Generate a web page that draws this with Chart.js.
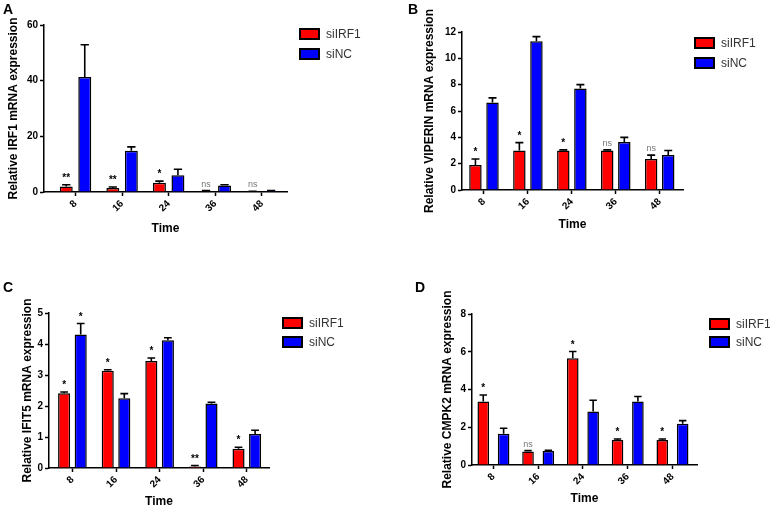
<!DOCTYPE html>
<html><head><meta charset="utf-8">
<script src="https://cdn.jsdelivr.net/npm/chart.js@4.4.1/dist/chart.umd.min.js"></script>
<style>
html,body{margin:0;padding:0;background:#fff;}
#wrap{position:relative;width:770px;height:510px;overflow:hidden;background:#fff;}
canvas{position:absolute;}
</style></head><body>
<div id="wrap">
<canvas id="cA" width="385" height="255" style="left:0;top:0"></canvas>
<canvas id="cB" width="385" height="255" style="left:385px;top:0"></canvas>
<canvas id="cC" width="385" height="255" style="left:0;top:255px"></canvas>
<canvas id="cD" width="385" height="255" style="left:385px;top:255px"></canvas>
</div>
<script>
// ---------- DATA ----------
const times = ['8','16','24','36','48'];
const seriesNames = ['siIRF1','siNC'];
const panelLetters = ['A','B','C','D'];
const yTitles = ['Relative IRF1 mRNA expression','Relative VIPERIN mRNA expression','Relative IFIT5 mRNA expression','Relative CMPK2 mRNA expression'];
const xTitle = 'Time';

const irf1_siIRF1 = [2.0, 1.4, 3.3, 0.3, 0.15];
const irf1_siIRF1_err = [0.6, 0.4, 0.6, 0.2, 0.1];
const irf1_siNC = [41.3, 14.8, 6.0, 2.3, 0.4];
const irf1_siNC_err = [11.6, 1.4, 2.2, 0.3, 0.1];
const irf1_sig = ['**','**','*','ns','ns'];

const viperin_siIRF1 = [1.9, 3.0, 3.0, 3.0, 2.35];
const viperin_siIRF1_err = [0.45, 0.6, 0.05, 0.05, 0.3];
const viperin_siNC = [6.65, 11.3, 7.7, 3.65, 2.65];
const viperin_siNC_err = [0.35, 0.35, 0.3, 0.35, 0.35];
const viperin_sig = ['*','*','*','ns','ns'];

const ifit5_siIRF1 = [2.41, 3.14, 3.45, 0.05, 0.62];
const ifit5_siIRF1_err = [0.04, 0.03, 0.1, 0.03, 0.05];
const ifit5_siNC = [4.31, 2.25, 4.12, 2.08, 1.1];
const ifit5_siNC_err = [0.35, 0.15, 0.08, 0.04, 0.12];
const ifit5_sig_siIRF1 = ['*','*','*','**','*'];
const ifit5_sig_siNC = ['*','','','',''];

const cmpk2_siIRF1 = [3.36, 0.72, 5.66, 1.33, 1.33];
const cmpk2_siIRF1_err = [0.35, 0.04, 0.35, 0.05, 0.05];
const cmpk2_siNC = [1.65, 0.74, 2.83, 3.36, 2.18];
const cmpk2_siNC_err = [0.3, 0.04, 0.6, 0.27, 0.17];
const cmpk2_sig = ['*','ns','*','*','*'];

const yMaxes = [60, 12, 5, 8];
const ySteps = [20, 2, 1, 2];

// ---------- STYLE / LAYOUT ----------
const FONT = '"Liberation Sans", Arial, Helvetica, sans-serif';
Chart.defaults.font.family = FONT;
Chart.defaults.color = '#000';
const RED = '#ff0000', BLUE = '#0000ff';

const layouts = [
  {id:'cA', L:44, R:287, T:25, B:192, xmin:-0.676, xmax:4.539, cp:0.794, bp:0.70, ytp:6.8, xtp:18.8, lg:{x:300,y:29,gap:20}, lx:3, ly:14},
  {id:'cB', L:77, R:298, T:32, B:190, xmin:-0.5, xmax:4.53, cp:0.777, bp:0.73, ytp:37.8, xtp:22.8, lg:{x:310,y:38,gap:20}, lx:23, ly:14},
  {id:'cC', L:49, R:269, T:58, B:213, xmin:-0.537, xmax:4.509, cp:0.76, bp:0.73, ytp:20.8, xtp:0.8, lg:{x:283,y:63,gap:19}, lx:3, ly:37},
  {id:'cD', L:87, R:312, T:59, B:210, xmin:-0.479, xmax:4.548, cp:0.91, bp:0.57, ytp:55.8, xtp:3.8, lg:{x:325,y:64,gap:18}, lx:30, ly:37}
];

const extrasPlugin = {
  id: 'extras',
  afterDatasetsDraw(chart) {
    const ctx = chart.ctx, ys = chart.scales.y;
    chart.data.datasets.forEach((ds, di) => {
      const meta = chart.getDatasetMeta(di);
      meta.data.forEach((bar, i) => {
        const v = ds.data[i].y, e = ds.err[i];
        const top = ys.getPixelForValue(v + e);
        const hw = bar.width * 0.32;
        ctx.save();
        ctx.strokeStyle = '#000'; ctx.lineWidth = 1.6;
        ctx.beginPath();
        ctx.moveTo(bar.x, bar.y); ctx.lineTo(bar.x, top);
        ctx.moveTo(bar.x - hw, top); ctx.lineTo(bar.x + hw, top);
        ctx.stroke();
        const m = ds.sig ? ds.sig[i] : '';
        if (m) {
          ctx.textAlign = 'center'; ctx.textBaseline = 'alphabetic';
          if (m === 'ns') {
            ctx.fillStyle = '#777'; ctx.font = '9px ' + FONT;
            ctx.fillText(m, bar.x, top - 4);
          } else {
            ctx.fillStyle = '#000'; ctx.font = 'bold 10px ' + FONT;
            ctx.fillText(m, bar.x, top - 4);
          }
        }
        ctx.restore();
      });
    });
  },
  afterDraw(chart, args, opts) {
    const ctx = chart.ctx;
    ctx.save();
    chart.data.datasets.forEach((ds, i) => {
      const x = opts.x, y = opts.y + i * opts.gap;
      ctx.fillStyle = ds.backgroundColor; ctx.fillRect(x, y, 19, 10);
      ctx.strokeStyle = '#000'; ctx.lineWidth = 2; ctx.strokeRect(x, y, 19, 10);
      ctx.fillStyle = '#333'; ctx.font = '12px ' + FONT; ctx.textBaseline = 'middle'; ctx.textAlign = 'left';
      ctx.fillText(ds.label, x + 26, y + 5.5);
    });
    ctx.fillStyle = '#000'; ctx.font = 'bold 14px ' + FONT; ctx.textBaseline = 'alphabetic'; ctx.textAlign = 'left';
    ctx.fillText(opts.letter, opts.lx, opts.ly);
    ctx.restore();
  }
};

function toXY(arr) { return arr.map((v, i) => ({x: i, y: v})); }

const panelData = [
  [[irf1_siIRF1, irf1_siIRF1_err, irf1_sig], [irf1_siNC, irf1_siNC_err, null]],
  [[viperin_siIRF1, viperin_siIRF1_err, viperin_sig], [viperin_siNC, viperin_siNC_err, null]],
  [[ifit5_siIRF1, ifit5_siIRF1_err, ifit5_sig_siIRF1], [ifit5_siNC, ifit5_siNC_err, ifit5_sig_siNC]],
  [[cmpk2_siIRF1, cmpk2_siIRF1_err, cmpk2_sig], [cmpk2_siNC, cmpk2_siNC_err, null]]
];

layouts.forEach((lay, p) => {
  const colors = [RED, BLUE];
  const datasets = panelData[p].map((d, k) => ({
    label: seriesNames[k],
    data: toXY(d[0]),
    err: d[1],
    sig: d[2],
    backgroundColor: colors[k],
    borderColor: '#000',
    borderWidth: 1.5,
    categoryPercentage: lay.cp,
    barPercentage: lay.bp
  }));
  new Chart(document.getElementById(lay.id), {
    type: 'bar',
    data: { datasets },
    plugins: [extrasPlugin],
    options: {
      responsive: false,
      animation: false,
      layout: { padding: { left: 0, top: lay.T, right: 385 - lay.R, bottom: 0 } },
      plugins: {
        legend: { display: false },
        tooltip: { enabled: false },
        extras: { x: lay.lg.x, y: lay.lg.y, gap: lay.lg.gap, letter: panelLetters[p], lx: lay.lx, ly: lay.ly }
      },
      scales: {
        x: {
          type: 'linear',
          offset: false,
          min: lay.xmin, max: lay.xmax,
          afterFit: (s) => { s.height = 255 - lay.B; },
          grid: { display: true, offset: false, drawOnChartArea: false, drawTicks: true, tickLength: 4, tickWidth: 1.5, tickColor: '#000' },
          border: { display: true, color: '#000', width: 1.5 },
          ticks: {
            stepSize: 1, includeBounds: false, autoSkip: false,
            minRotation: 45, maxRotation: 45, padding: 2,
            font: { size: 10, weight: 'bold' }, color: '#000',
            callback: (v) => Number.isInteger(v) && v >= 0 && v < times.length ? times[v] : ''
          },
          title: { display: true, text: xTitle, font: { size: 12, weight: 'bold' }, color: '#000', padding: { top: 0, bottom: lay.xtp } }
        },
        y: {
          min: 0, max: yMaxes[p],
          afterFit: (s) => { s.width = lay.L; },
          grid: { display: true, drawOnChartArea: false, drawTicks: true, tickLength: 4, tickWidth: 1.5, tickColor: '#000' },
          border: { display: true, color: '#000', width: 1.5 },
          ticks: { stepSize: ySteps[p], padding: 2, font: { size: 10, weight: 'bold' }, color: '#000' },
          title: { display: true, text: yTitles[p], font: { size: 12, weight: 'bold' }, color: '#000', padding: { top: lay.ytp, bottom: 0 } }
        }
      }
    }
  });
});
</script>
</body></html>
